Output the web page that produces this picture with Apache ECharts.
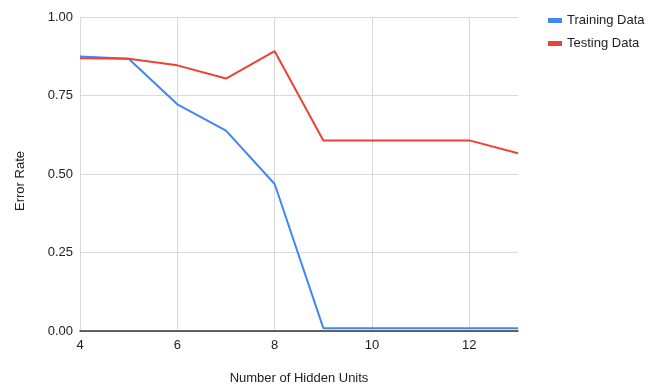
<!DOCTYPE html>
<html>
<head>
<meta charset="utf-8">
<script src="https://cdn.jsdelivr.net/npm/echarts@6/dist/echarts.min.js"></script>
<style>html,body{margin:0;padding:0;background:#fff}#c{width:655px;height:385px}</style>
</head>
<body>
<div id="c"></div>
<script>
var hiddenUnits = [4, 5, 6, 7, 8, 9, 10, 11, 12, 13];
var trainingData = [0.874, 0.867, 0.722, 0.638, 0.468, 0.009, 0.009, 0.009, 0.009, 0.009];
var testingData = [0.869, 0.867, 0.846, 0.804, 0.891, 0.607, 0.607, 0.607, 0.607, 0.566];
var seriesNames = ['Training Data', 'Testing Data'];
var xTicks = [4, 6, 8, 10, 12];
var yTicks = ['0.00', '0.25', '0.50', '0.75', '1.00'];

function pairs(xs, ys) { return xs.map(function (x, i) { return [x, ys[i]]; }); }

var font = 'Arial, "Liberation Sans", sans-serif';
var chart = echarts.init(document.getElementById('c'), null, { renderer: 'canvas' });
chart.setOption({
  animation: false,
  textStyle: { fontFamily: font },
  grid: { left: 80, right: 137, top: 17, bottom: 54, containLabel: false, outerBoundsMode: 'none' },
  legend: {
    orient: 'vertical', left: 543, top: 9, itemWidth: 14, itemHeight: 5, itemGap: 10,
    icon: 'rect',
    textStyle: { fontSize: 13, color: '#222', fontFamily: font },
    data: seriesNames
  },
  xAxis: {
    type: 'value', min: 4, max: 13, interval: 2,
    name: 'Number of Hidden Units', nameLocation: 'middle', nameGap: 41,
    nameTextStyle: { fontSize: 13, color: '#222', fontFamily: font },
    axisLine: { show: true, lineStyle: { color: '#333', width: 1.5 } },
    axisTick: { show: false },
    axisLabel: {
      fontSize: 13, color: '#222', margin: 8, fontFamily: font,
      formatter: function (v) { return xTicks.indexOf(v) >= 0 ? String(v) : ''; }
    },
    splitLine: { show: true, lineStyle: { color: ['#d9d9d9', '#d9d9d9', '#d9d9d9', '#d9d9d9', '#d9d9d9', 'rgba(0,0,0,0)'], width: 1 } }
  },
  yAxis: {
    type: 'value', min: 0, max: 1, interval: 0.25,
    name: 'Error Rate', nameLocation: 'middle', nameGap: 53, nameRotate: 90,
    nameTextStyle: { fontSize: 13, color: '#222', fontFamily: font, padding: [0, 14, 0, 0] },
    axisLine: { show: false },
    axisTick: { show: false },
    axisLabel: {
      fontSize: 13, color: '#222', margin: 7, fontFamily: font,
      formatter: function (v) { return yTicks[Math.round(v / 0.25)]; }
    },
    splitLine: { show: true, lineStyle: { color: '#d9d9d9', width: 1 } }
  },
  series: [
    {
      name: seriesNames[0], type: 'line', data: pairs(hiddenUnits, trainingData),
      showSymbol: false, symbol: 'none', color: '#4285F4',
      lineStyle: { width: 2, color: '#4285F4' }
    },
    {
      name: seriesNames[1], type: 'line', data: pairs(hiddenUnits, testingData),
      showSymbol: false, symbol: 'none', color: '#EA4335',
      lineStyle: { width: 2, color: '#EA4335' }
    }
  ]
});
</script>
</body>
</html>
